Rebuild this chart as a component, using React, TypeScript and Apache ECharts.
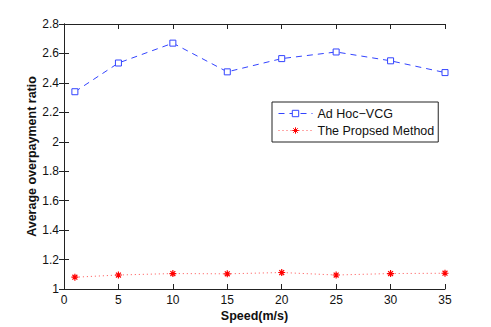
import React, { useEffect, useRef } from "react";
import * as echarts from "echarts";

const speeds = [1, 5, 10, 15, 20, 25, 30, 35];
const adHocVcg = [2.34, 2.535, 2.67, 2.475, 2.565, 2.61, 2.55, 2.47];
const proposed = [1.08, 1.095, 1.105, 1.103, 1.112, 1.095, 1.105, 1.107];
const seriesNames = ["Ad Hoc\u2212VCG", "The Propsed Method"];
const xLabel = "Speed(m/s)";
const yLabel = "Average overpayment ratio";

const asterisk =
  "path://M5,0 L5,10 M0,5 L10,5 M1.5,1.5 L8.5,8.5 M1.5,8.5 L8.5,1.5";

export default function App() {
  const ref = useRef<HTMLDivElement>(null);
  useEffect(() => {
    document.body.style.margin = "0";
    const chart = echarts.init(ref.current!, null, { renderer: "svg" });
    const font = "'Liberation Sans', Arial, sans-serif";
    const axisLine = { show: true, lineStyle: { color: "#222", width: 1 } };
    const tick = { show: true, inside: true, length: 5, lineStyle: { color: "#222" } };
    chart.setOption({
      animation: false,
      backgroundColor: "#fff",
      textStyle: { fontFamily: font },
      grid: { left: 64, right: 46, top: 24, bottom: 38, containLabel: false },
      legend: {
        orient: "vertical",
        left: 272,
        top: 102,
        padding: [5, 4, 5, 6],
        itemGap: 4,
        itemWidth: 34,
        itemHeight: 8,
        borderColor: "#222",
        borderWidth: 1,
        backgroundColor: "#fff",
        textStyle: { fontSize: 12.5, color: "#111", fontFamily: font },
        data: seriesNames,
        lineStyle: { width: 1 },
        itemStyle: { borderWidth: 1 },
      },
      xAxis: [
        {
          type: "value",
          min: 0,
          max: 35,
          interval: 5,
          name: xLabel,
          nameLocation: "middle",
          nameGap: 20,
          nameMoveOverlap: false,
          nameTextStyle: { fontWeight: "bold", fontSize: 12.5, color: "#111" },
          axisLine,
          axisTick: tick,
          axisLabel: { fontSize: 12, color: "#111", margin: 5 },
          splitLine: { show: false },
        },
        {
          type: "value",
          position: "top",
          min: 0,
          max: 35,
          interval: 5,
          axisLine,
          axisTick: tick,
          axisLabel: { show: false },
          splitLine: { show: false },
        },
      ],
      yAxis: [
        {
          type: "value",
          min: 1,
          max: 2.8,
          interval: 0.2,
          name: yLabel,
          nameLocation: "middle",
          nameGap: 26,
          nameMoveOverlap: false,
          nameTextStyle: { fontWeight: "bold", fontSize: 12.5, color: "#111" },
          axisLine,
          axisTick: tick,
          axisLabel: {
            fontSize: 12,
            color: "#111",
            margin: 5,
            formatter: (v: number) => String(Math.round(v * 10) / 10),
          },
          splitLine: { show: false },
        },
        {
          type: "value",
          position: "right",
          min: 1,
          max: 2.8,
          interval: 0.2,
          axisLine,
          axisTick: tick,
          axisLabel: { show: false },
          splitLine: { show: false },
        },
      ],
      series: [
        {
          name: seriesNames[0],
          type: "line",
          data: speeds.map((s, i) => [s, adHocVcg[i]]),
          symbol: "rect",
          symbolSize: 6,
          itemStyle: { color: "#fff", borderColor: "#3344ff", borderWidth: 1 },
          lineStyle: { color: "#3344ff", width: 1, type: [6, 5] },
        },
        {
          name: seriesNames[1],
          type: "line",
          data: speeds.map((s, i) => [s, proposed[i]]),
          symbol: asterisk,
          symbolSize: 7,
          itemStyle: { color: "#ff0000", borderColor: "#ff0000", borderWidth: 1.2 },
          lineStyle: { color: "#ff5050", width: 1, type: [1, 3] },
        },
      ],
    });
    return () => chart.dispose();
  }, []);
  return <div ref={ref} style={{ width: 491, height: 327 }} />;
}
